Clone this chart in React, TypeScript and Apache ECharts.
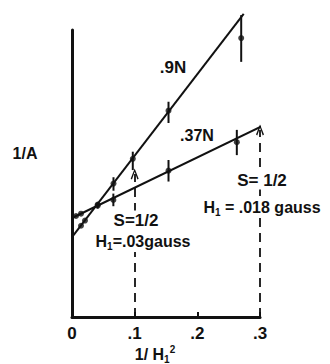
import React, { useEffect, useRef } from "react";
import * as echarts from "echarts";

// 1/H1^2 values and 1/A readings for the two concentrations
const steepX = [0.0144, 0.0207, 0.041, 0.0662, 0.097, 0.154, 0.27];
const steepY = [3.18, 3.36, 3.92, 4.65, 5.51, 7.19, 9.72];
const steepLo = [null, null, null, 4.4, 5.12, 6.76, 8.89];
const steepHi = [null, null, null, 4.87, 5.76, 7.5, 10.52];

const shallowX = [0.0064, 0.0144, 0.041, 0.066, 0.154, 0.263];
const shallowY = [3.52, 3.6, 3.88, 4.08, 5.1, 6.09];
const shallowLo = [null, null, 3.78, 3.86, 4.72, 5.64];
const shallowHi = [null, null, 4.0, 4.3, 5.47, 6.52];

// straight-line fits (endpoints)
const steepFit = [[0, 2.78], [0.274, 10.56]];
const shallowFit = [[0, 3.45], [0.313, 6.75]];

// S = 1/2 markers: x position and arrow tip height
const markX = [0.1, 0.3];
const markTip = [4.98, 6.52];

const xTicks = [0, 0.1, 0.2, 0.3];

const FONT = "Liberation Sans";
const INK = "#111";

function pairs(xs: number[], ys: number[]) {
  return xs.map((x, i) => [x, ys[i]]);
}

function bars(xs: number[], lo: (number | null)[], hi: (number | null)[]) {
  const out: number[][] = [];
  xs.forEach((x, i) => {
    if (lo[i] != null && hi[i] != null) out.push([x, lo[i] as number, hi[i] as number]);
  });
  return out;
}

// H with a subscript 1 drawn through rich text
const richStyles = (size: number) => ({
  b: { fontFamily: FONT, fontWeight: "bold", fontSize: size, color: INK, lineHeight: size + 4 },
  sub: {
    fontFamily: FONT,
    fontWeight: "bold",
    fontSize: Math.round(size * 0.62),
    color: INK,
    verticalAlign: "bottom",
    lineHeight: size + 4,
    padding: [Math.round(size * 0.45), 0, 0, 0],
  },
  sup: {
    fontFamily: FONT,
    fontWeight: "bold",
    fontSize: Math.round(size * 0.62),
    color: INK,
    verticalAlign: "top",
    lineHeight: size + 4,
    padding: [0, 0, Math.round(size * 0.5), 0],
  },
});

function label(text: string, x: number, y: number, size: number) {
  return {
    type: "text",
    x,
    y,
    z: 100,
    style: {
      text,
      rich: richStyles(size),
      fill: INK,
      font: `bold ${size}px "${FONT}"`,
      align: "center",
      verticalAlign: "middle",
      backgroundColor: "#fff",
      padding: [1, 2],
    },
  };
}

export default function App() {
  const ref = useRef<HTMLDivElement>(null);

  useEffect(() => {
    if (!ref.current) return;
    const chart = echarts.init(ref.current, null, { renderer: "svg" });

    const errorBars = [...bars(steepX, steepLo, steepHi), ...bars(shallowX, shallowLo, shallowHi)];

    chart.setOption({
      animation: false,
      backgroundColor: "#fff",
      grid: { left: 72, right: 70, top: 30, bottom: 47 },
      xAxis: {
        type: "value",
        min: 0,
        max: 0.3,
        interval: 0.1,
        axisLine: { lineStyle: { color: INK, width: 3 } },
        axisTick: { inside: true, length: 5, lineStyle: { color: INK, width: 2 } },
        axisLabel: {
          color: INK,
          fontFamily: FONT,
          fontWeight: "bold",
          fontSize: 17,
          margin: 8,
          formatter: (v: number) => {
            const hit = xTicks.find((t) => Math.abs(t - v) < 1e-6);
            if (hit === undefined) return "";
            return hit === 0 ? "0" : "." + Math.round(hit * 10);
          },
        },
        splitLine: { show: false },
      },
      yAxis: {
        type: "value",
        min: 0,
        max: 10,
        interval: 10,
        axisLine: { show: true, lineStyle: { color: INK, width: 3 } },
        axisTick: { show: false },
        axisLabel: { show: false },
        splitLine: { show: false },
      },
      series: [
        {
          type: "line",
          data: steepFit,
          symbol: "none",
          clip: false,
          lineStyle: { color: INK, width: 2 },
        },
        {
          type: "line",
          data: shallowFit,
          symbol: "none",
          clip: false,
          lineStyle: { color: INK, width: 2 },
          markLine: {
            silent: true,
            symbol: ["none", "path://M0,10 L5,0 L10,10 L8.4,10.9 L5,3.2 L1.6,10.9 Z"],
            symbolSize: [8, 11],
            label: { show: false },
            lineStyle: { color: INK, width: 1.8, type: [9, 6] },
            data: markX.map((x, i) => [{ coord: [x, 0] }, { coord: [x, markTip[i]] }]),
          },
        },
        {
          type: "scatter",
          data: pairs(steepX, steepY),
          symbol: "circle",
          symbolSize: 6,
          clip: false,
          itemStyle: { color: INK },
        },
        {
          type: "scatter",
          data: pairs(shallowX, shallowY),
          symbol: "circle",
          symbolSize: 6,
          clip: false,
          itemStyle: { color: INK },
        },
        {
          type: "custom",
          clip: false,
          data: errorBars,
          renderItem: (_params: any, api: any) => {
            const x = api.value(0);
            const a = api.coord([x, api.value(1)]);
            const b = api.coord([x, api.value(2)]);
            return {
              type: "line",
              shape: { x1: a[0], y1: a[1], x2: b[0], y2: b[1] },
              style: { stroke: INK, lineWidth: 2 },
            };
          },
        },
      ],
      graphic: [
        label("1/A", 25, 153, 16),
        label(".9N", 173, 67, 17),
        label(".37N", 197, 135, 16),
        label("S= 1/2", 262, 180, 17),
        label("{b|H}{sub|1}{b| = .018 gauss}", 262, 207, 16),
        label("S=1/2", 136, 220, 17),
        label("{b|H}{sub|1}{b|=.03gauss}", 143, 241, 16),
        label("{b|1/ H}{sub|1}{sup|2}", 155, 354, 16),
      ],
    });

    return () => chart.dispose();
  }, []);

  return (
    <div
      ref={ref}
      style={{ position: "fixed", left: 0, top: 0, width: 330, height: 364, background: "#fff" }}
    />
  );
}
